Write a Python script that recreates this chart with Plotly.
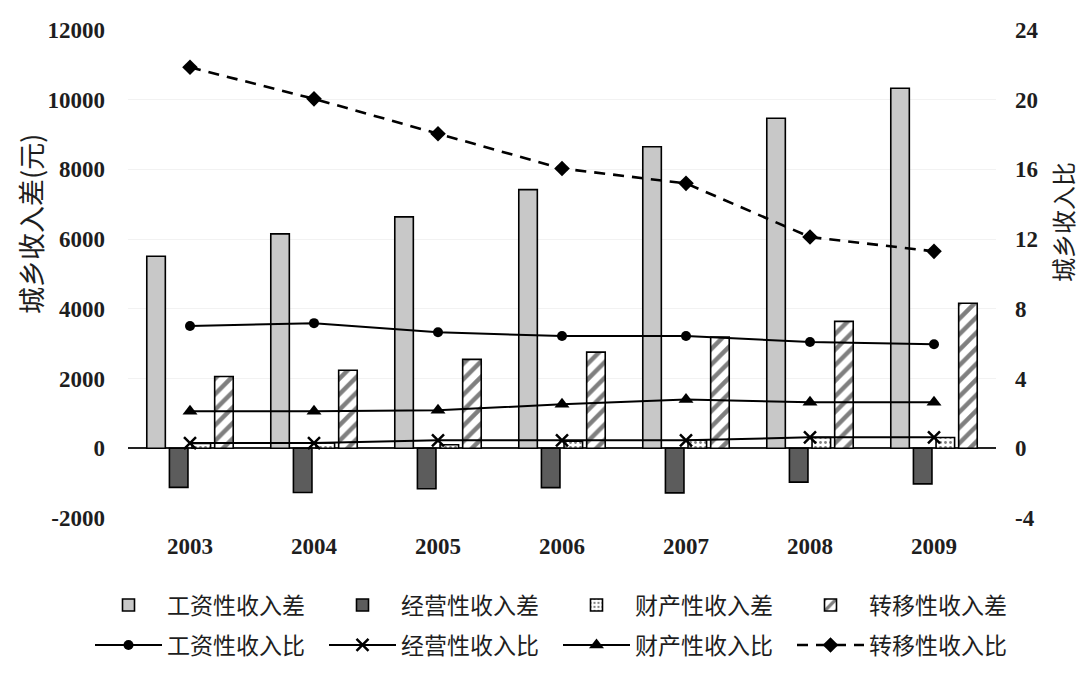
import plotly.graph_objects as go

years = ["2003", "2004", "2005", "2006", "2007", "2008", "2009"]

# income differences (yuan), left axis
wage_diff = [5510, 6150, 6640, 7420, 8650, 9470, 10330]
business_diff = [-1120, -1270, -1160, -1130, -1280, -970, -1020]
property_diff = [140, 150, 100, 200, 230, 310, 310]
transfer_diff = [2060, 2240, 2550, 2760, 3190, 3640, 4160]

# income ratios, right axis
wage_ratio = [7.02, 7.18, 6.66, 6.44, 6.44, 6.1, 5.97]
business_ratio = [0.3, 0.3, 0.46, 0.46, 0.46, 0.63, 0.63]
property_ratio = [2.12, 2.12, 2.18, 2.52, 2.8, 2.64, 2.64]
transfer_ratio = [21.86, 20.05, 18.05, 16.05, 15.2, 12.12, 11.3]

bar_names = ["工资性收入差", "经营性收入差", "财产性收入差", "转移性收入差"]
line_names = ["工资性收入比", "经营性收入比", "财产性收入比", "转移性收入比"]

left_ticks = [-2000, 0, 2000, 4000, 6000, 8000, 10000, 12000]
left_labels = ["-2000", "0", "2000", "4000", "6000", "8000", "10000", "12000"]
right_ticks = [-4, 0, 4, 8, 12, 16, 20, 24]
right_labels = ["-4", "0", "4", "8", "12", "16", "20", "24"]

left_title = "城乡收入差(元)"
right_title = "城乡收入比"

CJK = "Noto Sans CJK SC"
NUM = "Liberation Serif"
INK = "#1e1e1e"

# plot-area geometry in pixels (used only to place legends / titles)
W, H = 1080, 676
ML, MR, MT, MB = 128, 84, 30, 158
PW, PH = W - ML - MR, H - MT - MB

fig = go.Figure()
outline = dict(color="black", width=1.6)

fig.add_trace(go.Bar(x=years, y=wage_diff, name=bar_names[0], legend="legend",
                     marker=dict(color="#c8c8c8", line=outline)))
fig.add_trace(go.Bar(x=years, y=business_diff, name=bar_names[1], legend="legend",
                     marker=dict(color="#5c5c5c", line=outline)))
fig.add_trace(go.Bar(x=years, y=property_diff, name=bar_names[2], legend="legend",
                     marker=dict(color="white", line=outline,
                                 pattern=dict(shape=".", fgcolor="black", bgcolor="white",
                                              size=5, solidity=0.25))))
fig.add_trace(go.Bar(x=years, y=transfer_diff, name=bar_names[3], legend="legend",
                     marker=dict(color="white", line=outline,
                                 pattern=dict(shape="/", fgcolor="black", bgcolor="white",
                                              size=11, solidity=0.4))))

fig.add_trace(go.Scatter(x=years, y=wage_ratio, name=line_names[0], yaxis="y2", legend="legend2",
                         mode="lines+markers", line=dict(color="black", width=2),
                         marker=dict(symbol="circle", size=10, color="black")))
fig.add_trace(go.Scatter(x=years, y=business_ratio, name=line_names[1], yaxis="y2", legend="legend2",
                         mode="lines+markers", line=dict(color="black", width=2),
                         marker=dict(symbol="x-thin", size=12, color="black",
                                     line=dict(color="black", width=2.5))))
fig.add_trace(go.Scatter(x=years, y=property_ratio, name=line_names[2], yaxis="y2", legend="legend2",
                         mode="lines+markers", line=dict(color="black", width=2),
                         marker=dict(symbol="triangle-up", size=13, color="black")))
fig.add_trace(go.Scatter(x=years, y=transfer_ratio, name=line_names[3], yaxis="y2", legend="legend2",
                         mode="lines+markers",
                         line=dict(color="black", width=2.6, dash="11px,8px"),
                         marker=dict(symbol="diamond", size=12, color="black")))

legend_common = dict(orientation="h", xref="paper", yref="paper",
                     x=(90 - ML) / PW, xanchor="left", yanchor="middle",
                     entrywidth=152, entrywidthmode="pixels", itemwidth=67,
                     font=dict(family=CJK, size=23, color=INK),
                     bgcolor="rgba(0,0,0,0)", traceorder="normal")

tickfont = dict(family=NUM, size=23, color=INK, weight="bold")

fig.update_layout(
    width=W, height=H,
    margin=dict(l=ML, r=MR, t=MT, b=MB, autoexpand=False),
    paper_bgcolor="white", plot_bgcolor="white",
    barmode="group", bargap=0.27, bargroupgap=0.18,
    showlegend=True,
    legend=dict(legend_common, y=(H - MB - 605) / PH),
    legend2=dict(legend_common, y=(H - MB - 645) / PH),
    xaxis=dict(type="category", showgrid=False, showline=False, ticks="",
               ticklabelstandoff=12, tickfont=tickfont),
    yaxis=dict(range=[-2000, 12000], tickvals=left_ticks, ticktext=left_labels,
               showgrid=True, gridcolor="#f2f2f2",
               zeroline=True, zerolinecolor="#222", zerolinewidth=1.5,
               showline=False, ticks="", ticklabelstandoff=22, tickfont=tickfont),
    yaxis2=dict(range=[-4, 24], tickvals=right_ticks, ticktext=right_labels,
                overlaying="y", side="right",
                showgrid=False, zeroline=False, showline=False, ticks="",
                ticklabelstandoff=18, tickfont=tickfont),
    annotations=[
        dict(text=left_title, xref="paper", yref="paper", x=(30 - ML) / PW,
             y=(H - MB - 224) / PH, textangle=-90, showarrow=False,
             xanchor="center", yanchor="middle",
             font=dict(family=CJK, size=27, color=INK)),
        dict(text=right_title, xref="paper", yref="paper", x=(1062 - ML) / PW,
             y=(H - MB - 222) / PH, textangle=-90, showarrow=False,
             xanchor="center", yanchor="middle",
             font=dict(family=CJK, size=24, color=INK)),
    ],
)

fig.write_html("out.html")
